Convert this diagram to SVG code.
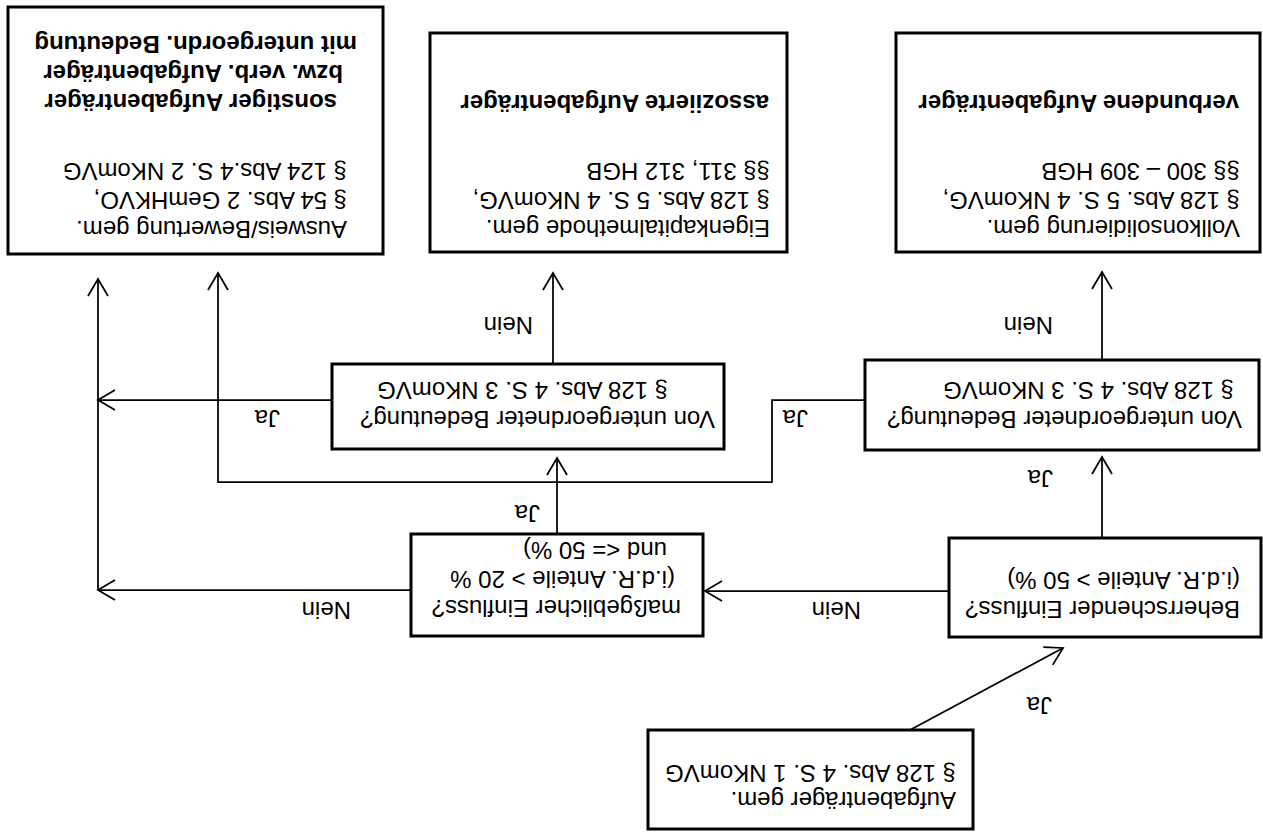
<svg xmlns="http://www.w3.org/2000/svg" width="1263" height="832" viewBox="0 0 1263 832">
<defs>
<style>
.box{fill:#fff;stroke:#000;stroke-width:3}
.t{font-family:"Liberation Sans",Arial,sans-serif;font-size:24px;fill:#000}
.b{font-weight:bold}
.c{fill:none;stroke:#000;stroke-width:1.75}
</style>
<marker id="ah" markerUnits="userSpaceOnUse" markerWidth="40" markerHeight="40" viewBox="-20 -20 40 40" refX="0" refY="0" orient="auto" overflow="visible">
<path d="M-17,-10 L0,0 L-17,10" fill="none" stroke="#000" stroke-width="1.75"/>
</marker>
</defs>
<rect width="1263" height="832" fill="#fff"/>
<g transform="rotate(180 631.5 416)">
<g id="connectors">
<line class="c" x1="353" y1="102" x2="200" y2="184" marker-end="url(#ah)"/>
<line class="c" x1="314" y1="241" x2="558" y2="241" marker-end="url(#ah)"/>
<line class="c" x1="161" y1="294" x2="161" y2="375" marker-end="url(#ah)"/>
<line class="c" x1="161" y1="472" x2="161" y2="560" marker-end="url(#ah)"/>
<polyline class="c" points="398,432 491,432 491,350 1045,350 1045,559" marker-end="url(#ah)"/>
<line class="c" x1="706" y1="298" x2="706" y2="374" marker-end="url(#ah)"/>
<line class="c" x1="710" y1="468" x2="710" y2="559" marker-end="url(#ah)"/>
<line class="c" x1="931" y1="432" x2="1165" y2="432" marker-end="url(#ah)"/>
<line class="c" x1="852" y1="242" x2="1165" y2="242" marker-end="url(#ah)"/>
<line class="c" x1="1165" y1="242" x2="1165" y2="553" marker-end="url(#ah)"/>
<text class="t" x="211" y="135">Ja</text>
<text class="t" x="402" y="230">Nein</text>
<text class="t" x="210" y="362">Ja</text>
<text class="t" x="210" y="515">Nein</text>
<text class="t" x="455" y="422">Ja</text>
<text class="t" x="723" y="327">Ja</text>
<text class="t" x="730" y="515">Nein</text>
<text class="t" x="983" y="422">Ja</text>
<text class="t" x="912" y="230">Nein</text>
</g>
<g id="node-aufgabentraeger">
<rect class="box" x="290" y="3" width="325" height="99"/>
<text class="t" x="307" y="40">Aufgabenträger gem.</text>
<text class="t" x="307" y="67">§ 128 Abs. 4 S. 1 NKomVG</text>
</g>
<g id="node-beherrschend">
<rect class="box" x="2" y="195" width="312" height="99"/>
<text class="t" x="23" y="231">Beherrschender Einfluss?</text>
<text class="t" x="23" y="260">(i.d.R. Anteile &gt; 50 %)</text>
</g>
<g id="node-massgeblich">
<rect class="box" x="560" y="196" width="292" height="102"/>
<text class="t" x="582" y="232">maßgeblicher Einfluss?</text>
<text class="t" x="588" y="261">(i.d.R. Anteile &gt; 20 %</text>
<text class="t" x="596" y="290">und &lt;= 50 %)</text>
</g>
<g id="node-untergeordnet-rechts">
<rect class="box" x="4" y="382" width="394" height="90"/>
<text class="t" x="21" y="421">Von untergeordneter Bedeutung?</text>
<text class="t" x="29" y="450">§ 128 Abs. 4 S. 3 NKomVG</text>
</g>
<g id="node-untergeordnet-links">
<rect class="box" x="539" y="383" width="392" height="85"/>
<text class="t" x="548" y="421">Von untergeordneter Bedeutung?</text>
<text class="t" x="595" y="450">§ 128 Abs. 4 S. 3 NKomVG</text>
</g>
<g id="node-verbunden">
<rect class="box" x="3" y="580" width="364" height="219"/>
<text class="t" x="23" y="612">Vollkonsolidierung gem.</text>
<text class="t" x="23" y="640">§ 128 Abs. 5 S. 4 NKomVG,</text>
<text class="t" x="23" y="669">§§ 300 – 309 HGB</text>
<text class="t b" x="24" y="737">verbundene Aufgabenträger</text>
</g>
<g id="node-assoziiert">
<rect class="box" x="476" y="580" width="357" height="219"/>
<text class="t" x="493" y="612">Eigenkapitalmethode gem.</text>
<text class="t" x="493" y="640">§ 128 Abs. 5 S. 4 NKomVG,</text>
<text class="t" x="493" y="669">§§ 311, 312 HGB</text>
<text class="t b" x="494" y="737">assoziierte Aufgabenträger</text>
</g>
<g id="node-sonstiger">
<rect class="box" x="880" y="578" width="375" height="247"/>
<text class="t" x="916" y="611">Ausweis/Bewertung gem.</text>
<text class="t" x="916" y="640">§ 54 Abs. 2 GemHKVO,</text>
<text class="t" x="916" y="669">§ 124 Abs.4 S. 2 NKomVG</text>
<text class="t b" x="926" y="738">sonstiger Aufgabenträger</text>
<text class="t b" x="920" y="767">bzw. verb. Aufgabenträger</text>
<text class="t b" x="906" y="796">mit untergeordn. Bedeutung</text>
</g>
</g>
</svg>
